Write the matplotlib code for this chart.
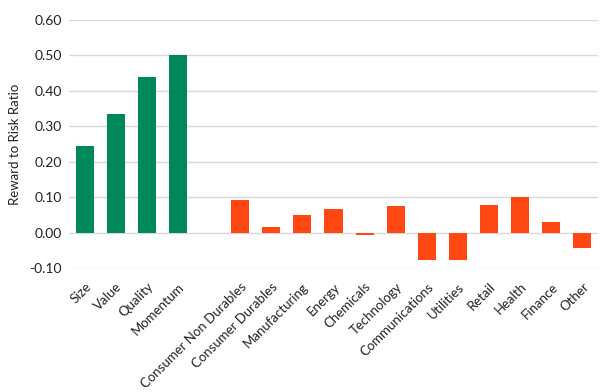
import matplotlib
matplotlib.use("Agg")
import matplotlib.pyplot as plt

categories = ["Size", "Value", "Quality", "Momentum", "",
              "Consumer Non Durables", "Consumer Durables", "Manufacturing",
              "Energy", "Chemicals", "Technology", "Communications",
              "Utilities", "Retail", "Health", "Finance", "Other"]
values = [0.245, 0.335, 0.44, 0.50, None,
          0.093, 0.015, 0.049, 0.066, -0.008, 0.074, -0.078,
          -0.076, 0.079, 0.101, 0.031, -0.044]
groups = ["factor"] * 4 + [None] + ["industry"] * 12
yticks = [-0.10, 0.00, 0.10, 0.20, 0.30, 0.40, 0.50, 0.60]

colors = {"factor": "#00875A", "industry": "#FF4713"}

plt.rcParams['font.family'] = ['Lato', 'DejaVu Sans']

fig = plt.figure(figsize=(6.13, 3.92), dpi=100)
ax = fig.add_axes([0.1126, 0.3163, 0.8629, 0.6327])

for i, (v, g) in enumerate(zip(values, groups)):
    if v is None:
        continue
    ax.bar(i, v, width=0.58, color=colors[g], zorder=3)

ax.set_xlim(-0.5, len(categories) - 0.5)
ax.set_ylim(-0.10, 0.60)
ax.set_yticks(yticks)
ax.set_yticklabels([f"{t:.2f}" for t in yticks], fontsize=10, color="#222222")
ax.set_xticks(range(len(categories)))
ax.set_xticklabels(categories, rotation=45, ha="right", rotation_mode="anchor",
                   fontsize=9.5, color="#222222")
ax.tick_params(axis="both", length=0)
ax.tick_params(axis="y", pad=5)
ax.tick_params(axis="x", pad=9)
ax.grid(axis="y", color="#D9D9D9", linewidth=1, zorder=0)
for s in ax.spines.values():
    s.set_visible(False)
ax.set_ylabel("Reward to Risk Ratio", fontsize=9.5, color="#222222", labelpad=6)

fig.savefig("out.png", dpi=100)
